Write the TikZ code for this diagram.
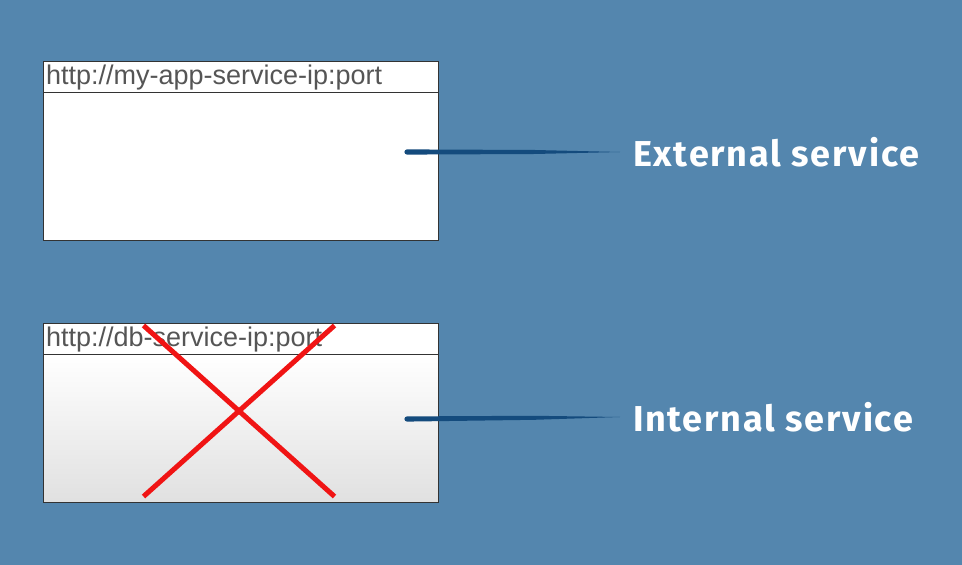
\documentclass[tikz,border=0pt]{standalone}
\usepackage{fontspec}
\setmainfont{Liberation Sans}
\newfontfamily\notefont{Fira Sans}[LetterSpace=5]
\usetikzlibrary{positioning, calc, shapes.misc}
\definecolor{bgblue}{RGB}{84,134,174}
\definecolor{lineblue}{RGB}{20,75,125}
\definecolor{urlgray}{RGB}{85,85,85}
\definecolor{crossred}{RGB}{240,20,20}

\begin{document}
\begin{tikzpicture}[x=1pt, y=1pt,
    head/.style={rectangle, draw=black!80, fill=white, line width=1pt, outer sep=0pt, minimum width=395pt, minimum height=31pt, text width=389pt, inner xsep=3pt, inner ysep=0pt, align=left, font=\fontsize{27}{27}\selectfont, text=urlgray, anchor=north west},
    body/.style={rectangle, draw=black!80, line width=1pt, outer sep=0pt, minimum width=395pt, minimum height=148pt, inner sep=0pt},
    note/.style={font=\notefont\bfseries\fontsize{36}{36}\selectfont, text=white, inner sep=0pt, outer xsep=13pt, anchor=west},
    taper/.style={to path={($(\tikztostart)+(0,2.6)$) -- ($(\tikztostart)!0.6!(\tikztotarget)+(0,2)$) -- (\tikztotarget) -- ($(\tikztostart)!0.6!(\tikztotarget)+(0,-2)$) -- ($(\tikztostart)+(0,-2.6)$) arc[start angle=270, end angle=90, radius=2.6] -- cycle}}]
    \fill [bgblue] (0,0) rectangle (962,565);

    % external
    \node [head] (apphead) at (43,503) {http://my-app-service-ip:port};
    \node [body, fill=white, below=0pt of apphead] (appbody) {};

    % internal
    \node [head] (dbhead) at (43,241) {http://db-service-ip:port};
    \node [body, top color=white, bottom color=black!12, below=0pt of dbhead] (dbbody) {};
    \node [cross out, draw=crossred, line width=5pt, minimum width=186pt, minimum height=166pt, inner sep=0pt] (nope) at (239,154) {};

    \node [note] (ext) at (620,413) {External service};
    \node [note] (int) at (620,148) {Internal service};
    \coordinate (appin) at (407,413);
    \coordinate (dbin) at (407,146);

    \fill [lineblue, taper] (appin) to (ext.west);
    \fill [lineblue, taper] (dbin) to (int.west);
\end{tikzpicture}
\end{document}
